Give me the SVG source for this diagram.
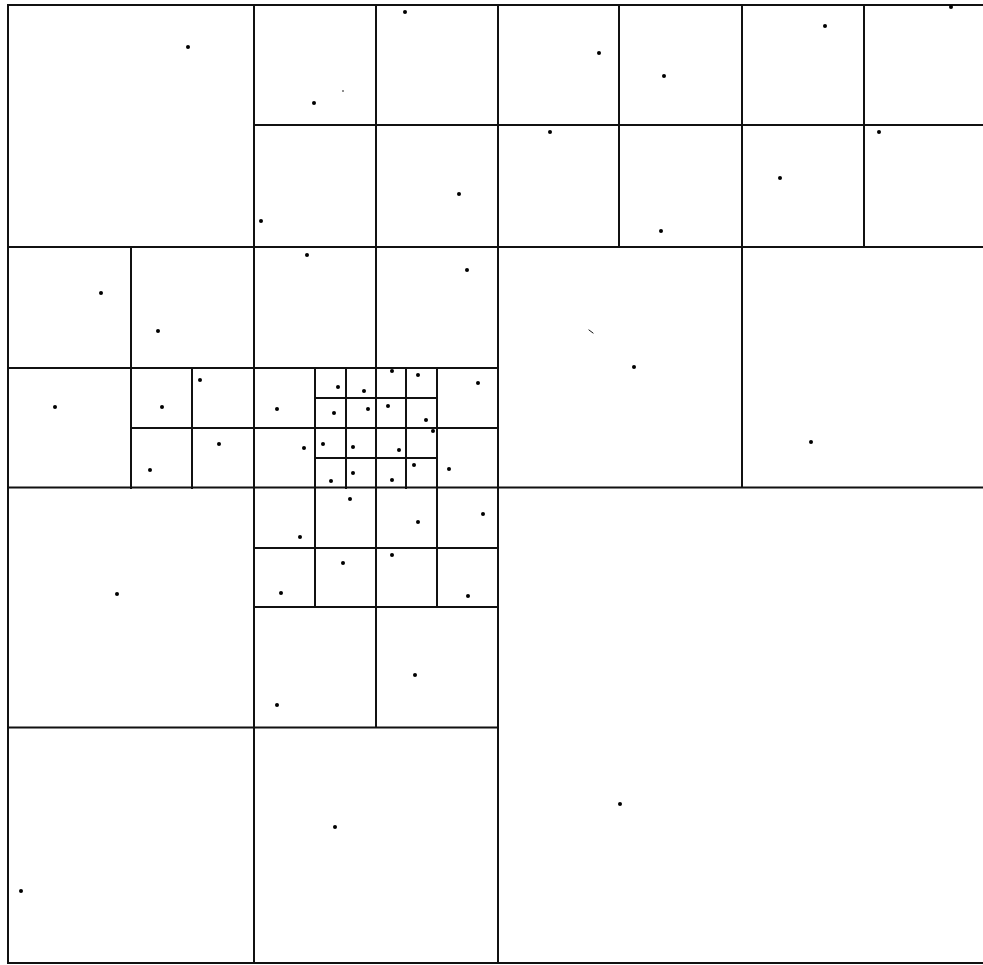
<svg xmlns="http://www.w3.org/2000/svg" width="983" height="965" viewBox="0 0 983 965">
<style>
.l{stroke:#111;stroke-width:2;fill:none;stroke-linecap:square}
.d{fill:#000}
</style>
<rect x="0" y="0" width="983" height="965" fill="#fff"/>
<g id="grid" class="l">
<path d="M8,5H983M8,963H983M8,5V963"/>
<path d="M498,5V963M254,5V963M742,5V487M619,5V247M864,5V247M376,5V727M131,247V488M192,368V488M315,368V607M437,368V607M346,368V488M406,368V488"/>
<path d="M8,487.5H983M8,247H983M254,125H983M8,368H498M131,428H498M315,398H437M315,458H437M254,548H498M254,607H498M8,727.5H498"/>
<path d="M589,330L593,333" stroke-width="1"/>
</g>
<g id="points" class="d">
<circle cx="188" cy="47" r="2"/><circle cx="314" cy="103" r="2"/><circle cx="405" cy="12" r="2"/><circle cx="599" cy="53" r="2"/><circle cx="664" cy="76" r="2"/><circle cx="825" cy="26" r="2"/><circle cx="951" cy="7" r="2"/>
<circle cx="261" cy="221" r="2"/><circle cx="459" cy="194" r="2"/><circle cx="550" cy="132" r="2"/><circle cx="661" cy="231" r="2"/><circle cx="780" cy="178" r="2"/><circle cx="879" cy="132" r="2"/>
<circle cx="101" cy="293" r="2"/><circle cx="158" cy="331" r="2"/><circle cx="307" cy="255" r="2"/><circle cx="467" cy="270" r="2"/><circle cx="634" cy="367" r="2"/><circle cx="811" cy="442" r="2"/>
<circle cx="55" cy="407" r="2"/><circle cx="162" cy="407" r="2"/><circle cx="200" cy="380" r="2"/><circle cx="150" cy="470" r="2"/><circle cx="219" cy="444" r="2"/>
<circle cx="277" cy="409" r="2"/><circle cx="338" cy="387" r="2"/><circle cx="364" cy="391" r="2"/><circle cx="392" cy="371" r="2"/><circle cx="418" cy="375" r="2"/><circle cx="478" cy="383" r="2"/>
<circle cx="334" cy="413" r="2"/><circle cx="368" cy="409" r="2"/><circle cx="388" cy="406" r="2"/><circle cx="426" cy="420" r="2"/><circle cx="433" cy="431" r="2"/>
<circle cx="304" cy="448" r="2"/><circle cx="323" cy="444" r="2"/><circle cx="353" cy="447" r="2"/><circle cx="399" cy="450" r="2"/><circle cx="414" cy="465" r="2"/><circle cx="449" cy="469" r="2"/>
<circle cx="331" cy="481" r="2"/><circle cx="353" cy="473" r="2"/><circle cx="392" cy="480" r="2"/>
<circle cx="350" cy="499" r="2"/><circle cx="300" cy="537" r="2"/><circle cx="418" cy="522" r="2"/><circle cx="483" cy="514" r="2"/><circle cx="281" cy="593" r="2"/><circle cx="343" cy="563" r="2"/><circle cx="392" cy="555" r="2"/><circle cx="468" cy="596" r="2"/>
<circle cx="117" cy="594" r="2"/><circle cx="277" cy="705" r="2"/><circle cx="415" cy="675" r="2"/><circle cx="21" cy="891" r="2"/><circle cx="335" cy="827" r="2"/><circle cx="620" cy="804" r="2"/>
<circle cx="343" cy="91" r="0.8"/>
</g>
</svg>
